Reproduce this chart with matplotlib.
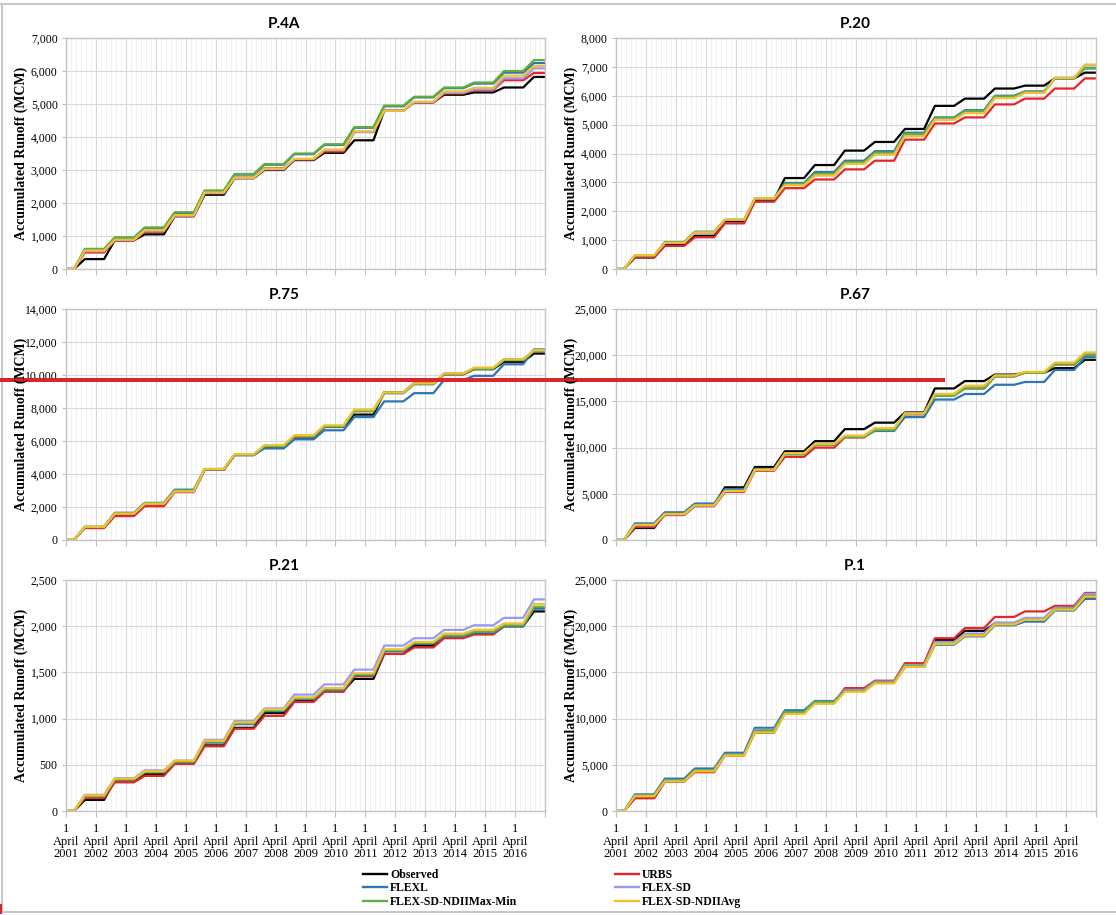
import matplotlib
matplotlib.use("Agg")
import matplotlib.pyplot as plt
from matplotlib.lines import Line2D
from matplotlib.ticker import FuncFormatter, MultipleLocator

# ---------------------------------------------------------------------------
# Accumulated runoff (MCM) at the end of each water year (1 April - 31 March)
# ---------------------------------------------------------------------------
WATER_YEARS = list(range(2001, 2017))
TICK_LABELS = [f"1\nApril\n{y}" for y in WATER_YEARS]

SERIES = ["Observed", "URBS", "FLEXL", "FLEX-SD", "FLEX-SD-NDIIMax-Min", "FLEX-SD-NDIIAvg"]
COLORS = ["#000000", "#e3262b", "#2e75b6", "#9a9aee", "#5fae3f", "#f2c12e"]

P4A_OBS = [300, 870, 1050, 1600, 2250, 2750, 3000, 3300, 3520, 3900, 4800, 5050, 5280, 5350, 5500, 5820]
P4A_URBS = [500, 860, 1130, 1600, 2300, 2770, 3050, 3320, 3560, 4150, 4800, 5050, 5320, 5420, 5720, 5940]
P4A_FLEXL = [590, 940, 1240, 1700, 2360, 2860, 3160, 3480, 3760, 4280, 4930, 5200, 5480, 5620, 5950, 6240]
P4A_SD = [540, 880, 1160, 1620, 2300, 2760, 3020, 3330, 3600, 4160, 4790, 5060, 5340, 5440, 5780, 6080]
P4A_MAXMIN = [610, 960, 1260, 1720, 2380, 2880, 3180, 3500, 3780, 4300, 4950, 5220, 5500, 5650, 6000, 6330]
P4A_AVG = [560, 890, 1180, 1630, 2320, 2770, 3040, 3340, 3620, 4170, 4800, 5070, 5380, 5490, 5860, 6150]

P20_OBS = [400, 850, 1150, 1650, 2400, 3150, 3600, 4100, 4400, 4850, 5650, 5900, 6250, 6350, 6600, 6800]
P20_URBS = [400, 800, 1100, 1580, 2330, 2800, 3100, 3450, 3750, 4480, 5040, 5250, 5700, 5900, 6250, 6600]
P20_FLEXL = [460, 930, 1290, 1700, 2450, 2980, 3360, 3750, 4080, 4720, 5250, 5500, 6000, 6150, 6620, 6950]
P20_SD = [470, 900, 1260, 1700, 2430, 2920, 3250, 3650, 3980, 4620, 5180, 5420, 5930, 6120, 6600, 7050]
P20_MAXMIN = [460, 920, 1280, 1700, 2440, 2950, 3300, 3700, 4030, 4680, 5220, 5470, 5980, 6130, 6600, 6950]
P20_AVG = [480, 910, 1270, 1710, 2450, 2900, 3240, 3640, 3960, 4600, 5170, 5400, 5920, 6100, 6620, 7080]

P75_OBS = [780, 1600, 2200, 2950, 4250, 5150, 5650, 6200, 6850, 7600, 8950, 9500, 10050, 10350, 10800, 11300]
P75_URBS = [720, 1450, 2050, 2900, 4250, 5150, 5700, 6250, 6900, 7850, 8950, 9450, 10050, 10400, 10950, 11450]
P75_FLEXL = [800, 1650, 2250, 3050, 4300, 5150, 5550, 6100, 6650, 7450, 8400, 8900, 9700, 9950, 10650, 11550]
P75_SD = [790, 1600, 2200, 2950, 4300, 5180, 5700, 6300, 6900, 7850, 8900, 9450, 10100, 10400, 10950, 11500]
P75_MAXMIN = [790, 1620, 2220, 3000, 4280, 5170, 5680, 6280, 6880, 7800, 8900, 9450, 10080, 10380, 10900, 11450]
P75_AVG = [800, 1600, 2200, 2950, 4300, 5200, 5750, 6350, 6950, 7900, 8950, 9500, 10100, 10450, 10950, 11500]

P67_OBS = [1300, 2900, 3800, 5700, 7900, 9600, 10700, 12000, 12700, 13800, 16400, 17200, 17900, 18100, 18600, 19500]
P67_URBS = [1400, 2700, 3650, 5200, 7500, 9000, 10000, 11100, 11900, 13600, 15700, 16400, 17700, 18100, 19000, 20000]
P67_FLEXL = [1800, 3000, 3950, 5500, 7700, 9300, 10400, 11200, 11800, 13300, 15200, 15800, 16800, 17100, 18400, 19800]
P67_SD = [1600, 2800, 3750, 5300, 7600, 9300, 10300, 11200, 12000, 13700, 15800, 16600, 17800, 18100, 19100, 20200]
P67_MAXMIN = [1600, 2850, 3800, 5350, 7650, 9300, 10300, 11150, 11900, 13650, 15600, 16400, 17700, 18100, 19000, 20000]
P67_AVG = [1650, 2800, 3750, 5300, 7600, 9400, 10400, 11300, 12100, 13700, 15800, 16700, 17800, 18200, 19200, 20300]

P21_OBS = [120, 330, 400, 520, 710, 900, 1060, 1200, 1300, 1430, 1700, 1790, 1880, 1920, 2000, 2160]
P21_URBS = [140, 310, 380, 510, 700, 890, 1030, 1180, 1290, 1460, 1700, 1770, 1870, 1910, 2000, 2200]
P21_FLEXL = [160, 340, 420, 530, 740, 940, 1080, 1210, 1310, 1470, 1730, 1810, 1890, 1930, 2000, 2190]
P21_SD = [175, 355, 440, 545, 770, 975, 1110, 1260, 1370, 1530, 1790, 1870, 1960, 2010, 2090, 2290]
P21_MAXMIN = [160, 340, 420, 535, 750, 950, 1090, 1220, 1320, 1480, 1740, 1820, 1900, 1940, 2010, 2210]
P21_AVG = [170, 350, 430, 545, 760, 960, 1100, 1230, 1330, 1490, 1750, 1830, 1920, 1960, 2030, 2240]

P1_OBS = [1400, 3200, 4300, 6100, 8500, 10600, 11800, 13100, 14000, 15600, 18500, 19500, 20300, 20800, 21800, 23000]
P1_URBS = [1400, 3200, 4200, 6000, 8700, 10600, 11700, 13300, 14100, 16000, 18700, 19800, 21000, 21600, 22200, 23600]
P1_FLEXL = [1800, 3500, 4600, 6300, 9000, 10900, 11900, 13100, 13900, 15600, 18000, 18900, 20100, 20500, 21700, 23000]
P1_SD = [1700, 3300, 4400, 6100, 8800, 10700, 11800, 13100, 14000, 15800, 18300, 19200, 20400, 20900, 22000, 23500]
P1_MAXMIN = [1700, 3300, 4400, 6100, 8700, 10700, 11800, 13000, 13900, 15700, 18100, 19000, 20200, 20700, 21900, 23300]
P1_AVG = [1600, 3200, 4300, 6000, 8500, 10500, 11600, 12900, 13800, 15600, 18100, 19000, 20200, 20700, 21800, 23200]

PANELS = [
    ("P.4A", [P4A_OBS, P4A_URBS, P4A_FLEXL, P4A_SD, P4A_MAXMIN, P4A_AVG], 7000, 1000),
    ("P.20", [P20_OBS, P20_URBS, P20_FLEXL, P20_SD, P20_MAXMIN, P20_AVG], 8000, 1000),
    ("P.75", [P75_OBS, P75_URBS, P75_FLEXL, P75_SD, P75_MAXMIN, P75_AVG], 14000, 2000),
    ("P.67", [P67_OBS, P67_URBS, P67_FLEXL, P67_SD, P67_MAXMIN, P67_AVG], 25000, 5000),
    ("P.21", [P21_OBS, P21_URBS, P21_FLEXL, P21_SD, P21_MAXMIN, P21_AVG], 2500, 500),
    ("P.1", [P1_OBS, P1_URBS, P1_FLEXL, P1_SD, P1_MAXMIN, P1_AVG], 25000, 5000),
]

# wet-season rise inside each water year (fraction of a year after 1 April)
RISE_START = 0.27
RISE_END = 0.63

W, H = 1116, 915
fig = plt.figure(figsize=(W / 100, H / 100), dpi=100)
fig.patch.set_facecolor("white")

SERIF = ["Liberation Serif", "DejaVu Serif"]
COLS = [(66, 545), (616, 1096)]
ROWS = [(38, 269), (309, 540), (580, 811)]
TITLE_X = [284, 855]
YLABEL_X = [21, 571]


def staircase(values):
    xs, ys = [2001.0], [0.0]
    prev = 0.0
    for yr, v in zip(WATER_YEARS, values):
        xs += [yr + RISE_START, yr + RISE_END]
        ys += [prev, v]
        prev = v
    xs.append(2017.0)
    ys.append(prev)
    return xs, ys


for idx, (name, series, ymax, ystep) in enumerate(PANELS):
    r, c = divmod(idx, 2)
    x0, x1 = COLS[c]
    y0, y1 = ROWS[r]
    ax = fig.add_axes([x0 / W, 1 - y1 / H, (x1 - x0) / W, (y1 - y0) / H])
    for vals, col, lab in zip(series, COLORS, SERIES):
        xs, ys = staircase(vals)
        ax.plot(xs, ys, color=col, lw=1.6, label=lab, solid_joinstyle="round")
    ax.set_xlim(2001, 2017)
    ax.set_ylim(0, ymax)
    ax.set_xticks(list(range(2001, 2018)))
    ax.xaxis.set_minor_locator(MultipleLocator(1 / 6))
    ax.yaxis.set_major_locator(MultipleLocator(ystep))
    ax.yaxis.set_major_formatter(FuncFormatter(lambda v, p: f"{int(v):,}"))
    if r == 2:
        ax.set_xticklabels(TICK_LABELS + [""], fontfamily=SERIF, fontsize=9, linespacing=1.05)
    else:
        ax.set_xticklabels([])
    for lbl in ax.get_yticklabels():
        lbl.set_fontfamily(SERIF)
        lbl.set_fontsize(8.5)
    ax.tick_params(axis="x", which="major", length=4, color="#bfbfbf", pad=5)
    ax.tick_params(axis="x", which="minor", length=0)
    ax.tick_params(axis="y", length=3, color="#bfbfbf", pad=3)
    ax.grid(True, which="major", color="#d9d9d9", lw=0.8)
    ax.grid(True, which="minor", axis="x", color="#efefef", lw=0.6)
    ax.set_axisbelow(True)
    for sp in ax.spines.values():
        sp.set_color("#c4c4c4")
        sp.set_linewidth(1.0)

    fig.text(TITLE_X[c] / W, 1 - (y0 - 14) / H, name, ha="center", va="center",
             fontfamily=["Lato", "DejaVu Sans"], fontweight="bold", fontsize=11)
    fig.text(YLABEL_X[c] / W, 1 - ((y0 + y1) / 2) / H, "Accumulated Runoff (MCM)",
             rotation=90, ha="center", va="center", fontfamily=SERIF,
             fontweight="bold", fontsize=10)

# two-column legend below the panels
handles = [Line2D([], [], color=col, lw=1.7) for col in COLORS]
legend_kw = dict(frameon=False, loc="upper left", borderpad=0, handlelength=2.0,
                 handletextpad=0.3, labelspacing=0.12,
                 prop=dict(family=SERIF, weight="bold", size=8.5))
left_idx = [0, 2, 4]
right_idx = [1, 3, 5]
fig.legend([handles[i] for i in left_idx], [SERIES[i] for i in left_idx],
           bbox_to_anchor=(357 / W, 1 - 863 / H), **legend_kw)
fig.legend([handles[i] for i in right_idx], [SERIES[i] for i in right_idx],
           bbox_to_anchor=(609 / W, 1 - 863 / H), **legend_kw)

# outer frame and the red marker line across the middle row
frame_kw = dict(color="#c8c8c8", lw=1.5, transform=fig.transFigure)
fig.add_artist(Line2D([0, 1], [1 - 4 / H, 1 - 4 / H], **frame_kw))
fig.add_artist(Line2D([2 / W, 2 / W], [1 - 4 / H, 1 - 912 / H], **frame_kw))
fig.add_artist(Line2D([0, 1], [1 - 912 / H, 1 - 912 / H], **frame_kw))
fig.add_artist(Line2D([0, 945 / W], [1 - 380 / H, 1 - 380 / H], color="#d7262c",
                      lw=2.9, transform=fig.transFigure, solid_capstyle="butt"))
fig.add_artist(Line2D([1 / W, 1 / W], [1 - 905 / H, 1 - 913 / H], color="#d7262c",
                      lw=1.5, transform=fig.transFigure))

fig.savefig("out.png", dpi=100)
